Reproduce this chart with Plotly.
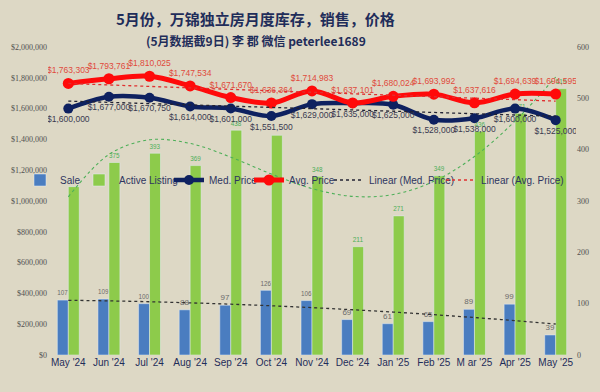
import numpy as np
import plotly.graph_objects as go

months = ["May '24", "Jun '24", "Jul '24", "Aug '24", "Sep '24", "Oct '24", "Nov '24",
          "Dec '24", "Jan '25", "Feb '25", "M ar '25", "Apr '25", "May '25"]
sales = [107, 109, 100, 88, 97, 126, 106, 69, 61, 65, 89, 99, 39]
listings = [328, 375, 393, 369, 438, 428, 348, 211, 271, 349, 436, 471, 519]
listing_labels = ["", "375", "393", "369", "438", "", "348", "211", "271", "349", "436", "471", "519"]
med_price = [1600000, 1677000, 1670750, 1614000, 1601000, 1551500, 1629000, 1635000,
             1625000, 1528000, 1538000, 1600000, 1525000]
avg_price = [1763303, 1793761, 1810025, 1747534, 1671670, 1636364, 1714983, 1637101,
             1680024, 1693992, 1637616, 1694639, 1694595]

BG = "#DDD8C5"
NAVY = "#0E2160"
RED = "#FF0A0A"
BLUE = "#4A7DC0"
GREEN = "#8DCB4B"

L, R, T, B = 48, 24, 47, 37
PW, PH = 600 - L - R, 392 - T - B

def px_x(px):
    return (px - L) / PW

def px_y(py):
    return (392 - B - py) / PH

xi = np.arange(len(months))
def fit(vals, deg):
    return np.polyval(np.polyfit(xi, vals, deg), xi)

fig = go.Figure()

fig.add_trace(go.Bar(x=months, y=sales, name="Sale", marker_color=BLUE,
                     text=[str(v) for v in sales], textposition="outside",
                     textfont=dict(size=8, color="#6B6B6B"), cliponaxis=False,
                     yaxis="y", legend="legend"))
fig.add_trace(go.Bar(x=months, y=listings, name="Active Listing", marker_color=GREEN,
                     text=listing_labels, textposition="outside",
                     textfont=dict(size=8, color="#4DAF58"), cliponaxis=False,
                     yaxis="y", legend="legend2"))

fig.add_trace(go.Scatter(x=months, y=fit(sales, 2), mode="lines", showlegend=False,
                         line=dict(color="#333333", width=1.3, dash="dot", shape="spline"), yaxis="y"))
fig.add_trace(go.Scatter(x=months, y=fit(listings, 4), mode="lines", showlegend=False,
                         line=dict(color="#4DAF58", width=1.1, dash="dot", shape="spline"), yaxis="y"))

fig.add_trace(go.Scatter(x=months, y=med_price, name="Med. Price", mode="lines+markers+text",
                         line=dict(color=NAVY, width=4.5, shape="spline"),
                         marker=dict(size=10, color=NAVY),
                         text=[f"${v:,.0f}" for v in med_price], textposition="bottom center",
                         textfont=dict(size=8.5, color="#3A3A50"), yaxis="y2", legend="legend3"))
fig.add_trace(go.Scatter(x=months, y=avg_price, name="Avg. Price", mode="lines+markers+text",
                         line=dict(color=RED, width=5, shape="spline"),
                         marker=dict(size=11, color=RED),
                         text=[f"${v:,.0f}" for v in avg_price], textposition="top center",
                         textfont=dict(size=8.5, color="#E04A3C"), yaxis="y2", legend="legend4"))
fig.add_trace(go.Scatter(x=months, y=fit(med_price, 1), name="Linear (Med. Price)", mode="lines",
                         line=dict(color="#222233", width=1.3, dash="dot"), yaxis="y2",
                         legend="legend5"))
fig.add_trace(go.Scatter(x=months, y=fit(avg_price, 1), name="Linear (Avg. Price)", mode="lines",
                         line=dict(color="#E03030", width=1.3, dash="dot"), yaxis="y2",
                         legend="legend6"))

def leg(text_start_px):
    return dict(orientation="h", x=px_x(text_start_px - 43), xanchor="left",
                y=px_y(180), yanchor="middle", bgcolor="rgba(0,0,0,0)",
                font=dict(size=10, color="#2E3560"), itemwidth=30)

fig.update_layout(
    width=600, height=392,
    paper_bgcolor=BG, plot_bgcolor=BG,
    margin=dict(l=L, r=R, t=T, b=B),
    barmode="group", bargap=0.46, bargroupgap=0,
    font=dict(family="Liberation Sans, Arial, sans-serif", color="#404040"),
    showlegend=True,
    legend=leg(63), legend2=leg(122), legend3=leg(212),
    legend4=leg(292), legend5=leg(372), legend6=leg(484),
    xaxis=dict(type="category", range=[-0.5, 12.5], showgrid=False, zeroline=False,
               showline=False, tickfont=dict(size=10, color="#1F2D5A"), ticks="",
               automargin=False),
    yaxis=dict(range=[0, 600], dtick=100, side="right", showgrid=False, zeroline=False,
               automargin=False,
               tickfont=dict(size=8, color="#505050", family="Liberation Serif, serif")),
    yaxis2=dict(range=[0, 2000000], dtick=200000, side="left", overlaying="y",
                showgrid=False, zeroline=False, tickformat="$,.0f", automargin=False,
                tickfont=dict(size=8, color="#505050", family="Liberation Serif, serif")),
    annotations=[
        dict(text="<b>5月份，万锦独立房月度库存，销售，价格</b>", x=px_x(255), xref="paper",
             y=px_y(18), yref="paper", yanchor="middle", showarrow=False,
             font=dict(size=15, color="#1F2D5A", family="Noto Sans CJK SC")),
        dict(text="<b>(5月数据截9日) 李 郡 微信 peterlee1689</b>", x=px_x(256), xref="paper",
             y=px_y(40), yref="paper", yanchor="middle", showarrow=False,
             font=dict(size=12, color="#1F2D5A", family="Noto Sans CJK SC")),
    ],
)

fig.write_html("out.html", config={"displayModeBar": False},
               post_script="document.body.style.margin='0';document.body.style.overflow='hidden';")
